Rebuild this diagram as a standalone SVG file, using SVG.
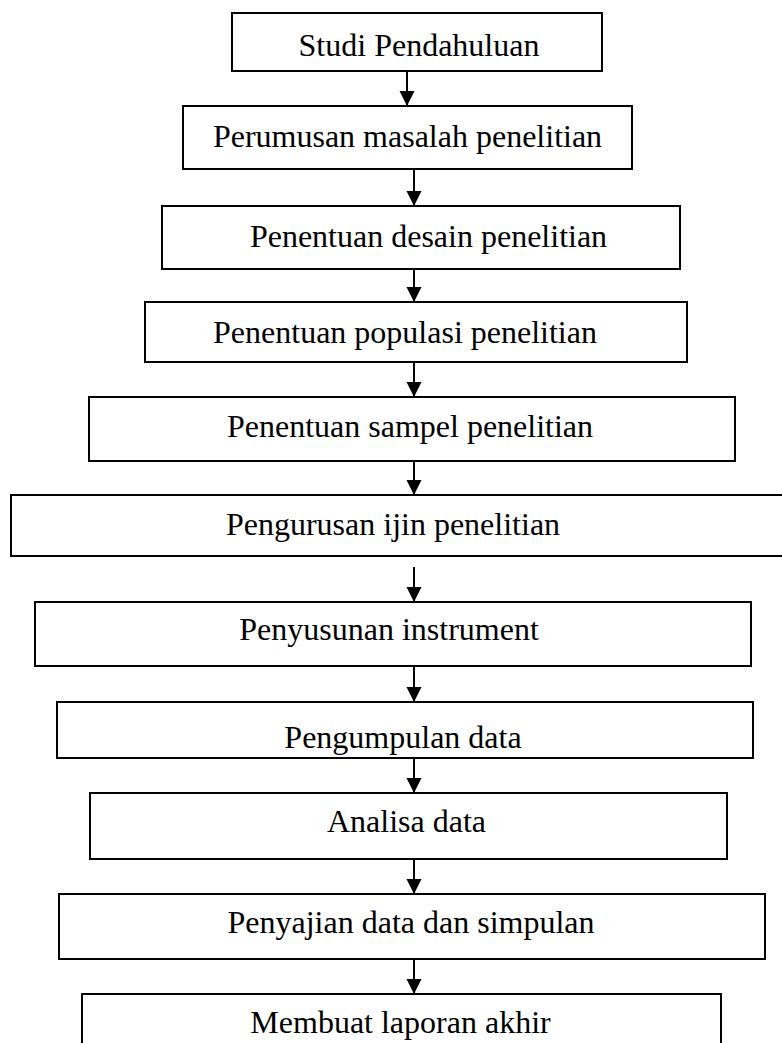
<svg xmlns="http://www.w3.org/2000/svg" width="782" height="1043" viewBox="0 0 782 1043">
<defs>
<marker id="ah" markerUnits="userSpaceOnUse" markerWidth="16" markerHeight="16" refX="15" refY="7.5" orient="auto">
<path d="M0,0 L15,7.5 L0,15 z" fill="#000"/>
</marker>
<style>
.box{fill:#fff;stroke:#000;stroke-width:2}
.lbl{font-family:"Liberation Serif","Times New Roman",serif;font-size:32px;fill:#000;text-anchor:middle}
.con{stroke:#000;stroke-width:2;fill:none;marker-end:url(#ah)}
</style>
</defs>
<rect width="782" height="1043" fill="#fff"/>
<g id="n1"><rect class="box" x="232" y="13" width="370" height="58"/><text class="lbl" x="419" y="56">Studi Pendahuluan</text></g>
<g id="n2"><rect class="box" x="183" y="106" width="449" height="63"/><text class="lbl" x="407.5" y="147">Perumusan masalah penelitian</text></g>
<g id="n3"><rect class="box" x="162" y="206" width="518" height="63"/><text class="lbl" x="428.5" y="246.5">Penentuan desain penelitian</text></g>
<g id="n4"><rect class="box" x="145" y="302" width="542" height="60"/><text class="lbl" x="405" y="342.5">Penentuan populasi penelitian</text></g>
<g id="n5"><rect class="box" x="89" y="397" width="646" height="64"/><text class="lbl" x="410" y="436.5">Penentuan sampel penelitian</text></g>
<g id="n6"><rect class="box" x="11" y="495" width="790" height="61"/><text class="lbl" x="393" y="535">Pengurusan ijin penelitian</text></g>
<g id="n7"><rect class="box" x="35" y="602" width="716" height="64"/><text class="lbl" x="389" y="640">Penyusunan instrument</text></g>
<g id="n8"><rect class="box" x="57" y="702" width="696" height="56"/><text class="lbl" x="403" y="748">Pengumpulan data</text></g>
<g id="n9"><rect class="box" x="90" y="793" width="637" height="66"/><text class="lbl" x="406.5" y="831.5">Analisa data</text></g>
<g id="n10"><rect class="box" x="59" y="894" width="706" height="65"/><text class="lbl" x="411" y="933">Penyajian data dan simpulan</text></g>
<g id="n11"><rect class="box" x="82" y="994" width="639" height="60"/><text class="lbl" x="400.5" y="1033">Membuat laporan akhir</text></g>
<g id="connectors">
<line class="con" x1="407" y1="71" x2="407" y2="106"/>
<line class="con" x1="414" y1="169" x2="414" y2="206"/>
<line class="con" x1="414" y1="269" x2="414" y2="302"/>
<line class="con" x1="414" y1="362" x2="414" y2="397"/>
<line class="con" x1="414" y1="461" x2="414" y2="495"/>
<line class="con" x1="414" y1="567" x2="414" y2="602"/>
<line class="con" x1="414" y1="666" x2="414" y2="702"/>
<line class="con" x1="414" y1="758" x2="414" y2="793"/>
<line class="con" x1="414" y1="859" x2="414" y2="894"/>
<line class="con" x1="414" y1="959" x2="414" y2="994"/>
</g>
</svg>
